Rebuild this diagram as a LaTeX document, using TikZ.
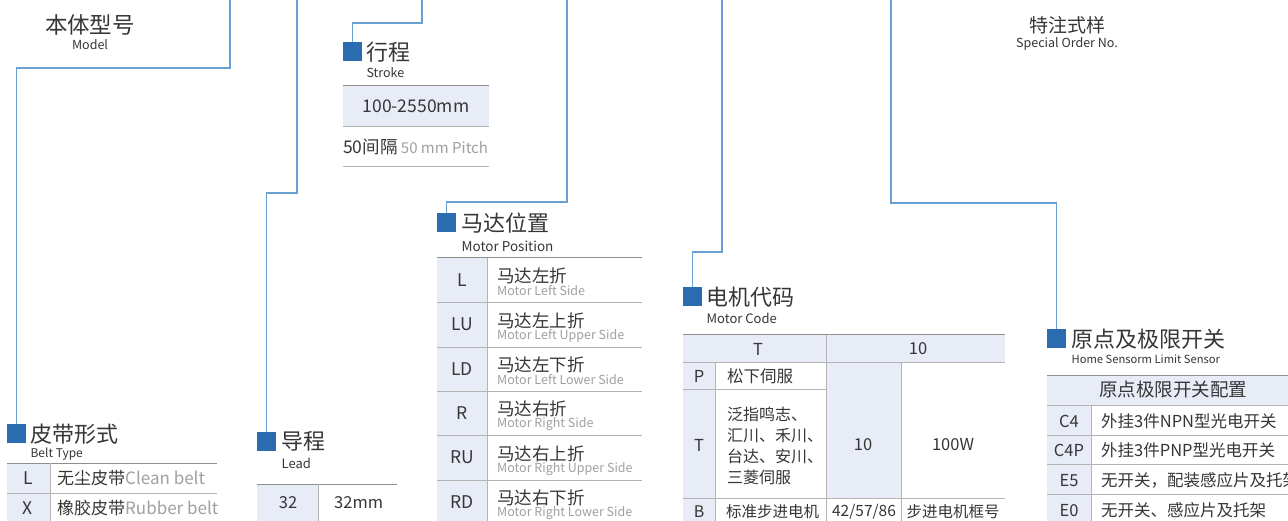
\documentclass[tikz,border=0pt]{standalone}
\usepackage{fontspec}
\setmainfont{Noto Sans CJK SC}
\usetikzlibrary{positioning}

\definecolor{linkblue}{HTML}{6A9FD2}
\definecolor{markblue}{HTML}{2B6CB0}
\definecolor{cellblue}{HTML}{E8ECF7}
\definecolor{txt}{HTML}{363636}
\definecolor{subgray}{HTML}{A0A0A0}
\definecolor{rulegray}{HTML}{8E8E8E}
\definecolor{rulelight}{HTML}{B4B4B4}

\begin{document}
\begin{tikzpicture}[x=1pt,y=-1pt,
  link/.style={draw=linkblue, line width=1.1pt},
  sqmark/.style={fill=markblue, minimum size=19pt, inner sep=0pt, anchor=north west},
  title/.style={font=\fontsize{22}{24}\selectfont, text=txt, inner sep=0pt, anchor=west},
  sub/.style={font=\fontsize{12.5}{14}\selectfont, text=txt, inner sep=0pt, anchor=west},
  cell/.style={font=\fontsize{16.5}{21}\selectfont, text=txt, inner sep=0pt},
  toprule/.style={draw=rulegray, line width=1pt},
  midrule/.style={draw=rulelight, line width=0.9pt}]
\path[use as bounding box, clip] (0,0) rectangle (1288,521);
\fill[white] (0,0) rectangle (1288,521);

% top labels
\node[title, anchor=center, font=\fontsize{22.5}{24}\selectfont] (model) at (90,25) {本体型号};
\node[sub, anchor=center, font=\fontsize{12.5}{14}\selectfont] (modelen) at (90,45) {Model};
\node[title, anchor=center, font=\fontsize{19}{21}\selectfont] (special) at (1067,25) {特注式样};
\node[sub, anchor=center, font=\fontsize{12.5}{14}\selectfont] (specialen) at (1067,44) {Special Order No.};

% markers and headings
\node[sqmark] (beltmark) at (7,424) {};
\node[title, right=4pt of beltmark] (belttitle) {皮带形式};
\node[sub, font=\fontsize{12}{13}\selectfont] (belten) at ([yshift=-20pt]belttitle.west) {Belt Type};

\node[sqmark] (leadmark) at (257,432) {};
\node[title, right=5pt of leadmark] (leadtitle) {导程};
\node[sub, font=\fontsize{13}{14}\selectfont] (leaden) at ([yshift=-22pt]leadtitle.west) {Lead};

\node[sqmark] (strokemark) at (343,42) {};
\node[title, right=4pt of strokemark] (stroketitle) {行程};
\node[sub] (strokeen) at ([yshift=-21pt]stroketitle.west) {Stroke};

\node[sqmark] (posmark) at (437,213) {};
\node[title, right=5pt of posmark] (postitle) {马达位置};
\node[sub, font=\fontsize{13.5}{15}\selectfont] (posen) at ([yshift=-24pt]postitle.west) {Motor Position};

\node[sqmark] (codemark) at (683,287) {};
\node[title, right=4pt of codemark] (codetitle) {电机代码};
\node[sub, font=\fontsize{13}{14}\selectfont] (codeen) at ([yshift=-22pt]codetitle.west) {Motor Code};

\node[sqmark] (homemark) at (1047,329) {};
\node[title, right=5pt of homemark] (hometitle) {原点及极限开关};
\node[sub, font=\fontsize{11.2}{13}\selectfont] (homeen) at ([yshift=-21pt]hometitle.west) {Home Sensorm Limit Sensor};

% connectors from the model code above
\coordinate (beltsrc) at (230,-2);
\coordinate (leadsrc) at (297,-2);
\coordinate (strokesrc) at (422,-2);
\coordinate (possrc) at (567,-2);
\coordinate (codesrc) at (722,-2);
\coordinate (homesrc) at (891,-2);
\draw[link] (beltsrc) -- ++(0,70) -| (beltmark.north);
\draw[link] (leadsrc) -- ++(0,195) -| (leadmark.north);
\draw[link] (strokesrc) -- ++(0,25) -| (strokemark.north);
\draw[link] (possrc) -- ++(0,204) -| (posmark.north);
\draw[link] (codesrc) -- ++(0,254) -| (codemark.north);
\draw[link] (homesrc) -- ++(0,205) -| (homemark.north);

% belt type table
\fill[cellblue] (7,463) rectangle (50,525);
\draw[toprule] (7,463) -- (217,463);
\draw[midrule] (7,493) -- (217,493);
\draw[midrule] (50,463) -- (50,525);
\node[cell, font=\fontsize{17.5}{20}\selectfont] (beltL) at (28,478) {L};
\node[cell, anchor=west, font=\fontsize{17}{20}\selectfont] (beltLtxt) at (57,478) {无尘皮带\textcolor{subgray}{Clean belt}};
\node[cell, font=\fontsize{17.5}{20}\selectfont] (beltX) at (28,508) {X};
\node[cell, anchor=west, font=\fontsize{17}{20}\selectfont] (beltXtxt) at (57,508) {橡胶皮带\textcolor{subgray}{Rubber belt}};

% lead table
\fill[cellblue] (257,484) rectangle (318,525);
\draw[toprule] (257,484) -- (397,484);
\draw[midrule] (318,484) -- (318,525);
\node[cell] (lead32) at (288,503) {32};
\node[cell, anchor=west] (lead32txt) at (334,503) {32mm};

% stroke table
\fill[cellblue] (343,86) rectangle (489,126);
\draw[toprule] (343,86) -- (489,86);
\draw[midrule] (343,126) -- (489,126);
\draw[midrule] (343,166) -- (489,166);
\node[cell, font=\fontsize{17.5}{20}\selectfont] (strokerange) at (416,106) {100-2550mm};
\node[cell, anchor=west, font=\fontsize{17.5}{20}\selectfont] (strokepitch) at (343,147) {50间隔\textcolor{subgray}{\fontsize{15}{17}\selectfont\ 50 mm Pitch}};

% motor position table
\fill[cellblue] (437,258) rectangle (487,525);
\draw[toprule] (437,258) -- (642,258);
\draw[midrule] (487,258) -- (487,525);
\foreach \y in {302,347,391,435,480}
  \draw[midrule] (437,\y) -- (642,\y);
\foreach \code/\cn/\en [count=\i from 0] in {L/马达左折/Motor Left Side, LU/马达左上折/Motor Left Upper Side, LD/马达左下折/Motor Left Lower Side, R/马达右折/Motor Right Side, RU/马达右上折/Motor Right Upper Side, RD/马达右下折/Motor Right Lower Side}{
  \node[cell, font=\fontsize{17.5}{20}\selectfont] (poscode\i) at (462,{280+44.4*\i}) {\code};
  \node[cell, anchor=west, font=\fontsize{17.5}{20}\selectfont] (poscn\i) at (497,{276+44.4*\i}) {\cn};
  \node[sub, text=subgray, font=\fontsize{12.5}{14}\selectfont] (posen\i) at (497,{291+44.4*\i}) {\en};
}

% motor code table
\fill[cellblue] (683,335) rectangle (1005,362);
\fill[cellblue] (683,362) rectangle (715,525);
\fill[cellblue] (826,362) rectangle (901,498);
\draw[toprule] (683,335) -- (1005,335);
\draw[midrule] (683,362) -- (1005,362);
\draw[midrule] (683,389) -- (826,389);
\draw[midrule] (683,498) -- (1005,498);
\draw[midrule] (826,335) -- (826,525);
\draw[midrule] (715,362) -- (715,525);
\draw[midrule] (901,362) -- (901,525);
\node[cell] (codehdT) at (758,349) {T};
\node[cell] (codehd10) at (918,349) {10};
\node[cell] (codeP) at (699,376) {P};
\node[cell, anchor=west] (codePtxt) at (727,376) {松下伺服};
\node[cell] (codeT) at (699,445) {T};
\node[cell, anchor=west, align=left, font=\fontsize{16}{21}\selectfont] (codeTtxt) at (727,446) {泛指鸣志、\\汇川、禾川、\\台达、安川、\\三菱伺服};
\node[cell] (code10) at (863,445) {10};
\node[cell] (code100W) at (953,445) {100W};
\node[cell, font=\fontsize{16}{20}\selectfont] (codeB) at (699,512) {B};
\node[cell, anchor=west, font=\fontsize{15.5}{20}\selectfont] (codeBtxt) at (726,512) {标准步进电机};
\node[cell, font=\fontsize{15.5}{20}\selectfont] (codeframe) at (864,512) {42/57/86};
\node[cell, font=\fontsize{15.5}{20}\selectfont] (codeframetxt) at (953,512) {步进电机框号};

% home and limit sensor table
\fill[cellblue] (1047,375) rectangle (1290,405);
\fill[cellblue] (1047,405) rectangle (1091,525);
\draw[toprule] (1047,375) -- (1290,375);
\foreach \y in {405,435,464,494}
  \draw[midrule] (1047,\y) -- (1290,\y);
\draw[midrule] (1091,405) -- (1091,525);
\node[cell, font=\fontsize{18.5}{21}\selectfont] (homehd) at (1173,390) {原点极限开关配置};
\foreach \code/\txt [count=\i from 0] in {C4/外挂3件NPN型光电开关, C4P/外挂3件PNP型光电开关, E5/无开关，配装感应片及托架, E0/无开关、感应片及托架}{
  \node[cell] (homecode\i) at (1069,{421+29.7*\i}) {\code};
  \node[cell, anchor=west] (hometxt\i) at (1101,{421+29.7*\i}) {\txt};
}
\end{tikzpicture}
\end{document}
